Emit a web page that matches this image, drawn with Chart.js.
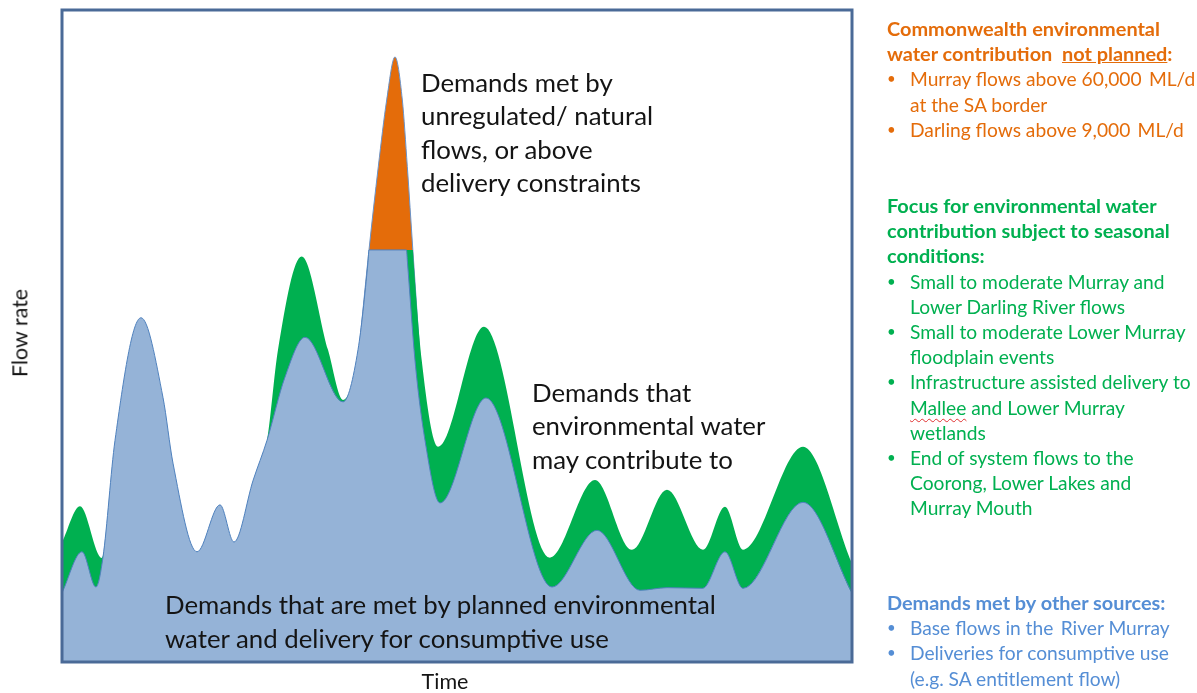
<!DOCTYPE html>
<html>
<head>
<meta charset="utf-8">
<script src="https://cdn.jsdelivr.net/npm/chart.js@4.4.0/dist/chart.umd.min.js"></script>
<style>
  html, body { margin: 0; padding: 0; background: #fff; }
  #wrap { position: relative; width: 1197px; height: 693px; overflow: hidden; font-family: Lato, "Open Sans", sans-serif; }
  #flow-chart { position: absolute; left: 0; top: 0; }
  .note { position: absolute; color: #141414; font-size: 25.8px; line-height: 33.4px; white-space: nowrap; }
  .axis { position: absolute; color: #141414; font-size: 21.5px; line-height: 25.2px; white-space: nowrap; }
  .panel { position: absolute; left: 887px; font-size: 19.2px; line-height: 25.2px; white-space: nowrap; }
  .panel b { font-weight: 700; font-size: 19.9px; }
  .item { position: relative; padding-left: 23px; }
  .item::before { content: "\2022"; position: absolute; left: 0; font-size: 15px; }
  .orange { color: #e46c0a; }
  .green { color: #00b050; }
  .blue { color: #558ed5; }
  .squiggle { text-decoration: underline wavy #e03030; text-decoration-thickness: 1px; text-underline-offset: 3px; }
</style>
</head>
<body>
<div id="wrap">
  <canvas id="flow-chart" width="1197" height="693"></canvas>

  <div class="note" style="left:421px; top:66px;">Demands met by<br>unregulated/ natural<br>flows, or above<br>delivery constraints</div>
  <div class="note" style="left:532px; top:376px;">Demands that<br>environmental water<br>may contribute to</div>
  <div class="note" style="left:165px; top:587px; line-height:34px;">Demands that are met by planned environmental<br>water and delivery for consumptive use</div>

  <div class="axis" style="left:20px; top:333px; transform: translate(-50%, -50%) rotate(-90deg);">Flow rate</div>
  <div class="axis" style="left:445px; top:669px; transform: translateX(-50%);">Time</div>

  <div class="panel orange" style="top:16px;">
    <b>Commonwealth environmental</b><br>
    <b>water contribution&nbsp; <u>not planned</u>:</b>
    <div class="item">Murray flows above 60,000&#8201; ML/d<br>at the SA border</div>
    <div class="item">Darling flows above 9,000&#8201; ML/d</div>
  </div>

  <div class="panel green" style="top:193px;">
    <b>Focus for environmental water</b><br>
    <b>contribution subject to seasonal</b><br>
    <b>conditions:</b>
    <div class="item">Small to moderate Murray and<br>Lower Darling River flows</div>
    <div class="item">Small to moderate Lower Murray<br>floodplain events</div>
    <div class="item">Infrastructure assisted delivery to<br><span class="squiggle">Mallee</span> and Lower Murray<br>wetlands</div>
    <div class="item">End of system flows to the<br>Coorong, Lower Lakes and<br>Murray Mouth</div>
  </div>

  <div class="panel blue" style="top:590px;">
    <b>Demands met by other sources:</b>
    <div class="item">Base flows in the&#8201; River Murray</div>
    <div class="item">Deliveries for consumptive use<br>(e.g. SA entitlement flow)</div>
  </div>
</div>

<script>
// Time axis runs 0..100 across the frame, flow rate 0..100 from bottom to top

// Blue: demands met by planned environmental water and consumptive deliveries
const blueTime = [0, 2.53, 4.30, 5.19, 6.71, 10.0, 12.78, 14.05, 17.09, 20.0,
    21.77, 24.2, 25.95, 28.2, 30.76, 35.57, 37.47, 38.73, 38.86, 43.6,
    43.73, 44.68, 45.95, 47.85, 53.67, 62.03, 67.72, 73.16, 76.6, 81.1,
    83.92, 86.2, 93.8, 100];
const blueFlow = [10.6, 16.9, 11.5, 16.1, 34.0, 52.8, 40.6, 30.5, 16.9, 24.1,
    18.4, 27.9, 34.0, 43.6, 49.8, 39.9, 47.9, 61.3, 63.2, 63.2,
    61.3, 46.3, 34.0, 24.4, 40.5, 11.5, 20.2, 11.0, 11.4, 11.3,
    16.9, 11.3, 24.5, 10.6];

// Green: top of the band environmental water may contribute to
const greenTime = [0, 2.28, 5.06, 6.71, 10.0, 12.78, 14.05, 17.09, 20.0, 21.77,
    24.2, 25.95, 27.34, 30.34, 33.67, 35.57, 37.6, 38.75, 38.9, 44.41,
    44.51, 45.53, 47.6, 53.42, 61.77, 67.47, 72.15, 76.58, 81.14, 83.92,
    86.2, 93.8, 100];
const greenFlow = [18.3, 23.9, 15.95, 32.5, 51.3, 39.1, 29.0, 15.4, 22.6, 16.9,
    26.4, 34.0, 47.9, 62.2, 47.9, 40.2, 47.5, 61.0, 63.2, 63.2,
    61.3, 46.3, 33.0, 51.4, 16.0, 27.9, 17.2, 26.4, 17.2, 23.8,
    17.2, 33.0, 15.2];

// Orange: unregulated / natural flow peak above delivery constraints
const orangeTime = [37.6, 38.86, 40.04, 41.1, 42.15, 43.08, 43.71, 44.41, 45.35];
const orangeFlow = [47.9, 63.2, 76.0, 86.2, 92.8, 86.2, 76.0, 63.2, 46.3];

function toPoints(xs, ys) {
    return xs.map((x, i) => ({ x: x, y: ys[i] }));
}

// Draws the box round the plot area
const framePlugin = {
    id: 'frame',
    afterDatasetsDraw(chart) {
        const area = chart.chartArea;
        const c = chart.ctx;
        c.save();
        c.strokeStyle = '#4a6a97';
        c.lineWidth = 3;
        c.strokeRect(area.left, area.top, area.right - area.left, area.bottom - area.top);
        c.restore();
    }
};

const ctx = document.getElementById('flow-chart').getContext('2d');
const flowChart = new Chart(ctx, {
    type: 'line',
    data: {
        datasets: [{
            label: 'Planned environmental water and consumptive use',
            data: toPoints(blueTime, blueFlow),
            backgroundColor: '#95b3d7',
            borderColor: '#4f81bd',
            borderWidth: 1,
            fill: 'origin'
        }, {
            label: 'Environmental water may contribute',
            data: toPoints(greenTime, greenFlow),
            backgroundColor: '#00b050',
            borderColor: 'rgba(0,0,0,0)',
            borderWidth: 1,
            fill: 'origin'
        }, {
            label: 'Unregulated / natural flows',
            data: toPoints(orangeTime, orangeFlow),
            backgroundColor: '#e46c0a',
            borderColor: '#6a93c9',
            borderWidth: 1,
            fill: 'origin'
        }]
    },
    options: {
        responsive: false,
        animation: false,
        layout: { padding: { left: 62, top: 10, right: 345, bottom: 31 } },
        elements: {
            line: { cubicInterpolationMode: 'monotone' },
            point: { radius: 0, hoverRadius: 0 }
        },
        scales: {
            x: { type: 'linear', min: 0, max: 100, display: false },
            y: { min: 0, max: 100, display: false }
        },
        plugins: {
            legend: { display: false },
            tooltip: { enabled: false }
        }
    },
    plugins: [framePlugin]
});
</script>
</body>
</html>
